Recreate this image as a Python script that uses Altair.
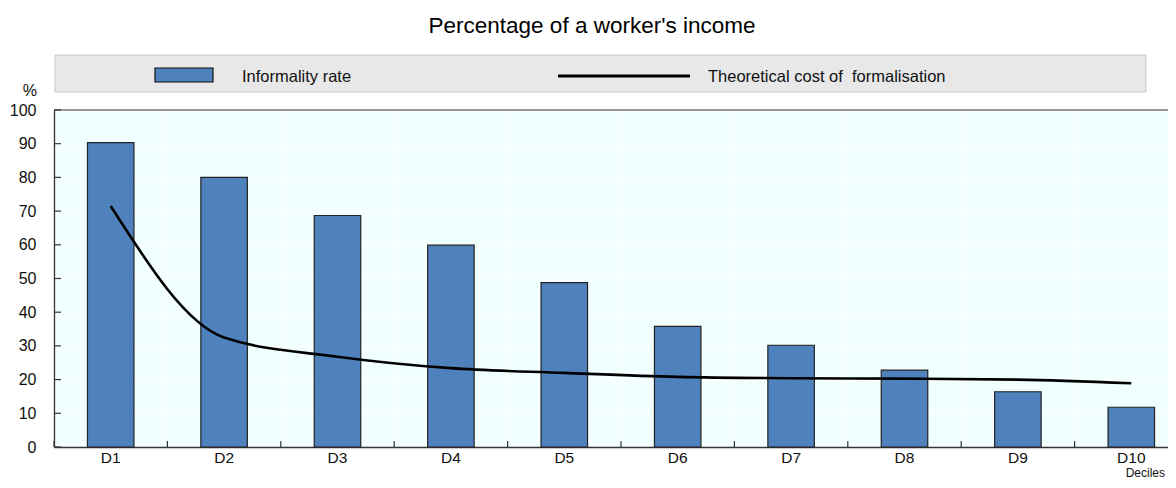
import altair as alt
import pandas as pd

# ---- data ----
deciles = ["D1", "D2", "D3", "D4", "D5", "D6", "D7", "D8", "D9", "D10"]
informality_rate = [90.3, 80.0, 68.7, 59.9, 48.8, 35.8, 30.2, 22.8, 16.4, 11.8]
formalisation_cost = [71.5, 32.5, 26.8, 23.4, 22.0, 20.8, 20.4, 20.3, 20.0, 18.9]
y_ticks = [0, 10, 20, 30, 40, 50, 60, 70, 80, 90, 100]
title_text = ["Percentage of a worker's income"]
legend_labels = ["Informality rate", "Theoretical cost of\u00a0 formalisation"]
y_unit = ["%"]
x_unit = ["Deciles"]

# ---- layout / style ----
W, H = 1134, 337
FONT = "Liberation Sans, Arial, sans-serif"
BAR = "#4F81BD"
DARK = "#333333"

df = pd.DataFrame({"decile": deciles, "rate": informality_rate, "cost": formalisation_cost})
tick_df = pd.DataFrame({"v": y_ticks})
one = pd.DataFrame({"k": [0]})

x_scale = alt.Scale(domain=deciles, paddingInner=0, paddingOuter=0)
x_axis = alt.Axis(title=None, bandPosition=0, grid=True, gridColor="white", gridWidth=1,
                  ticks=False, labelAngle=0, labelFont=FONT, labelFontSize=15.5,
                  labelColor="#111", labelPadding=3, domainColor=DARK, domainWidth=1.3)
y_scale = alt.Scale(domain=[0, 100], nice=False, zero=True)
y_axis = alt.Axis(title=None, values=y_ticks, grid=True, gridColor="white", gridWidth=1,
                  ticks=False, labelFont=FONT, labelFontSize=16, labelColor="#111",
                  labelPadding=18, domainColor=DARK, domainWidth=1.3)

bars = alt.Chart(df).mark_bar(
    width=alt.RelativeBandSize(0.41), color=BAR, stroke="#222222", strokeWidth=1.2
).encode(
    x=alt.X("decile:N", sort=deciles, scale=x_scale, axis=x_axis),
    y=alt.Y("rate:Q", scale=y_scale, axis=y_axis),
)

line = alt.Chart(df).mark_line(
    color="black", strokeWidth=2.6, interpolate="monotone"
).encode(
    x=alt.X("decile:N", sort=deciles, scale=x_scale, axis=x_axis),
    y=alt.Y("cost:Q", scale=y_scale, axis=y_axis),
)

# inward ticks
y_tick_marks = alt.Chart(tick_df).mark_rule(color=DARK, strokeWidth=1.2).encode(
    y=alt.Y("v:Q", scale=y_scale, axis=y_axis), x=alt.value(0), x2=alt.value(7)
)
x_tick_marks = alt.Chart(df).mark_rule(color=DARK, strokeWidth=1.2).encode(
    x=alt.X("decile:N", sort=deciles, scale=x_scale, axis=x_axis, bandPosition=0),
    y=alt.value(H), y2=alt.value(H - 6)
)
top_border = alt.Chart(one).mark_rule(color=DARK, strokeWidth=1.2).encode(
    x=alt.value(0), x2=alt.value(W), y=alt.value(0)
)

# title
title = alt.Chart(pd.DataFrame({"t": title_text})).mark_text(
    font=FONT, fontSize=22.5, color="black", align="center", baseline="alphabetic"
).encode(text="t:N", x=alt.value(538), y=alt.value(-77))

# legend box
legend_box = alt.Chart(one).mark_rect(fill="#E8E8E8", stroke="#C8C8C8", strokeWidth=1).encode(
    x=alt.value(1), x2=alt.value(1092), y=alt.value(-55), y2=alt.value(-18)
)
legend_swatch = alt.Chart(one).mark_rect(fill=BAR, stroke="#111111", strokeWidth=1.2).encode(
    x=alt.value(101), x2=alt.value(159), y=alt.value(-42), y2=alt.value(-28)
)
legend_line = alt.Chart(one).mark_rule(color="black", strokeWidth=3).encode(
    x=alt.value(504), x2=alt.value(636), y=alt.value(-34)
)
leg_df = pd.DataFrame({"label": legend_labels, "px": [188, 654]})
legend_text = alt.Chart(leg_df).mark_text(
    font=FONT, fontSize=16.5, color="#111", align="left", baseline="middle"
).encode(text="label:N", x=alt.X("px:Q", scale=None), y=alt.value(-33))

y_unit_text = alt.Chart(pd.DataFrame({"t": y_unit})).mark_text(
    font=FONT, fontSize=16, color="#111", align="right", baseline="alphabetic"
).encode(text="t:N", x=alt.value(-17), y=alt.value(-14))

x_unit_text = alt.Chart(pd.DataFrame({"t": x_unit})).mark_text(
    font=FONT, fontSize=12, color="#111", align="right", baseline="bottom"
).encode(text="t:N", x=alt.value(1111), y=alt.value(370))

chart = alt.layer(
    bars, line, y_tick_marks, x_tick_marks, top_border,
    title, legend_box, legend_swatch, legend_line, legend_text, y_unit_text, x_unit_text
).properties(
    width=W, height=H,
    padding={"left": 46, "top": 102, "right": -20, "bottom": 33},
    autosize=alt.AutoSizeParams(type="none"),
    background="white",
).configure_view(
    fill="#F2FFFF", stroke="transparent"
)

chart.save("out.html", embed_options={"renderer": "svg", "actions": False})
